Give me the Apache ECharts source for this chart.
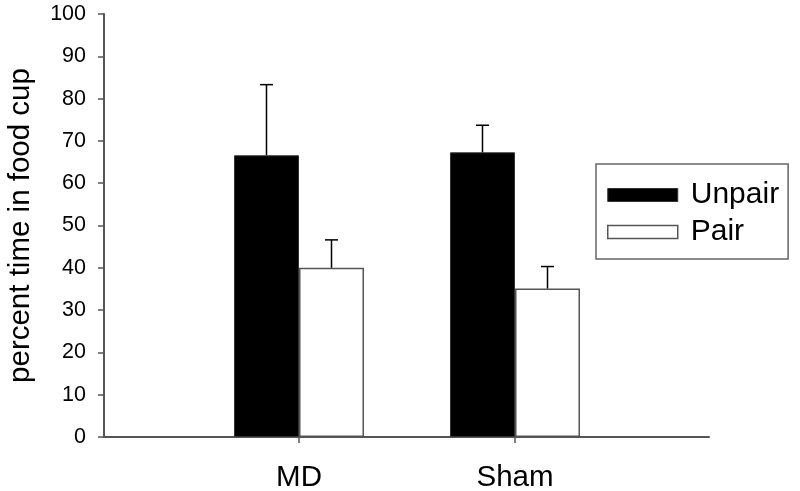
<!DOCTYPE html>
<html>
<head>
<meta charset="utf-8">
<script src="https://cdn.jsdelivr.net/npm/echarts@6/dist/echarts.min.js"></script>
<style>html,body{margin:0;padding:0;background:#fff}#c{width:800px;height:491px}</style>
</head>
<body>
<div id="c"></div>
<script>
var categories = ['MD', 'Sham'];
var unpairValues = [66.6, 67.3];
var unpairErrors = [16.7, 6.4];
var pairValues = [40.0, 35.1];
var pairErrors = [6.6, 5.2];
var yTicks = [0, 10, 20, 30, 40, 50, 60, 70, 80, 90, 100];

var FONT = '"Liberation Sans", Arial, sans-serif';
var AXIS = '#555';
var BARW = 65;

function errData(vals, errs, sign) {
  return vals.map(function (v, i) { return [i, v, v + errs[i], sign]; });
}
function renderErr(params, api) {
  var sign = api.value(3);
  var p0 = api.coord([api.value(0), api.value(1)]);
  var p1 = api.coord([api.value(0), api.value(2)]);
  var x = p0[0] + sign * BARW / 2;
  var half = 6.5;
  return {
    type: 'group',
    children: [
      { type: 'line', shape: { x1: x, y1: p0[1], x2: x, y2: p1[1] }, style: { stroke: '#000', lineWidth: 1.5 } },
      { type: 'line', shape: { x1: x - half, y1: p1[1], x2: x + half, y2: p1[1] }, style: { stroke: '#000', lineWidth: 1.5 } }
    ]
  };
}

var chart = echarts.init(document.getElementById('c'), null, { renderer: 'canvas' });
chart.setOption({
  animation: false,
  textStyle: { fontFamily: FONT },
  grid: [
    { left: 104, right: 91, top: 14, bottom: 54, containLabel: false, outerBoundsMode: 'none' },
    { left: 191, right: 177, top: 14, bottom: 54, containLabel: false, outerBoundsMode: 'none' }
  ],
  legend: {
    orient: 'vertical',
    left: 596, top: 164,
    icon: 'rect',
    itemWidth: 70, itemHeight: 13, itemGap: 7,
    padding: [16, 9, 12, 11],
    borderColor: '#666', borderWidth: 1.5, borderRadius: 0,
    textStyle: { fontFamily: FONT, fontSize: 30, color: '#000', lineHeight: 30, padding: [0, 0, 0, 8] },
    data: [
      { name: 'Unpair', itemStyle: { color: '#000', borderColor: '#333', borderWidth: 1 } },
      { name: 'Pair', itemStyle: { color: '#fff', borderColor: '#555', borderWidth: 1.5 } }
    ]
  },
  xAxis: [
    { gridIndex: 0, type: 'value', min: 0, max: 1,
      axisLine: { show: true, lineStyle: { color: AXIS, width: 2 } },
      axisTick: { show: false }, axisLabel: { show: false }, splitLine: { show: false } },
    { gridIndex: 1, type: 'category', data: categories,
      axisLine: { show: false },
      axisTick: { show: true, alignWithLabel: true, length: 6, lineStyle: { color: AXIS, width: 1.5 } },
      axisLabel: { fontFamily: FONT, fontSize: 29.5, color: '#000', margin: 26 } }
  ],
  yAxis: [
    { gridIndex: 0, type: 'value', min: 0, max: 100, interval: 10,
      name: 'percent time in food cup', nameLocation: 'middle', nameGap: 68,
      nameTextStyle: { fontFamily: FONT, fontSize: 29.5, color: '#000' },
      axisLine: { show: true, lineStyle: { color: AXIS, width: 2 } },
      axisTick: { show: true, length: 6, lineStyle: { color: AXIS, width: 1.5 } },
      axisLabel: { fontFamily: FONT, fontSize: 21.5, color: '#000', margin: 18,
        formatter: function (v) { return yTicks.indexOf(v) >= 0 ? String(v) : ''; } },
      splitLine: { show: false } },
    { gridIndex: 1, type: 'value', min: 0, max: 100, show: false, splitLine: { show: false } }
  ],
  series: [
    { name: 'Unpair', type: 'bar', xAxisIndex: 1, yAxisIndex: 1, barWidth: BARW, barGap: '0%',
      data: unpairValues, itemStyle: { color: '#000', borderColor: '#333', borderWidth: 1 } },
    { name: 'Pair', type: 'bar', xAxisIndex: 1, yAxisIndex: 1, barWidth: BARW, barGap: '0%',
      data: pairValues, itemStyle: { color: '#fff', borderColor: '#555', borderWidth: 1.5 } },
    { name: 'UnpairErr', type: 'custom', xAxisIndex: 1, yAxisIndex: 1, renderItem: renderErr,
      data: errData(unpairValues, unpairErrors, -1), z: 3 },
    { name: 'PairErr', type: 'custom', xAxisIndex: 1, yAxisIndex: 1, renderItem: renderErr,
      data: errData(pairValues, pairErrors, 1), z: 3 }
  ]
});
</script>
</body>
</html>
